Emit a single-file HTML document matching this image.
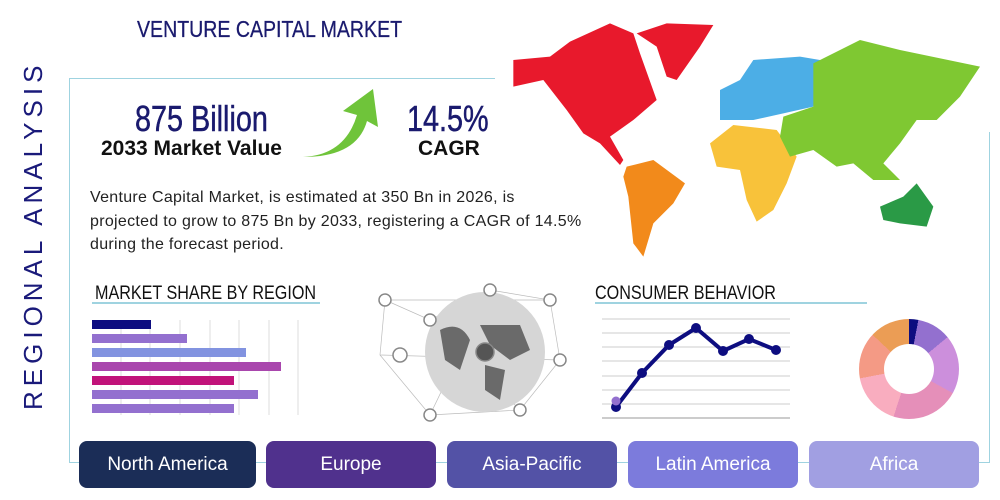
<!DOCTYPE html>
<html><head><meta charset="utf-8"><style>
body{margin:0;width:1000px;height:500px;background:#fff;position:relative;overflow:hidden;font-family:"Liberation Sans",sans-serif}
.a{position:absolute}
.cond{font-family:"Liberation Sans Narrow","Liberation Sans",sans-serif;transform-origin:left top}
.btn{position:absolute;top:441px;height:47px;border-radius:8px;color:#fff;font-size:19px;text-align:center;line-height:47px}
</style></head><body>
<div class="a" style="left:69px;top:78px;width:921px;height:385px;border:1.5px solid #9fd3e0;box-sizing:border-box"></div>
<div class="a" style="left:495px;top:0;width:505px;height:132px;background:#fff"></div>
<div class="a" style="left:18px;top:90px;width:40px;height:320px">
<div class="a" style="left:0;top:320px;transform:rotate(-90deg);transform-origin:left top;font-size:26px;letter-spacing:5px;color:#1a1a7a;white-space:nowrap;width:320px;text-align:center">REGIONAL ANALYSIS</div></div>
<div class="a cond" style="left:137px;top:16px;font-size:23px;color:#1a1a6e;-webkit-text-stroke:.3px #1a1a6e;transform:scaleX(.85)">VENTURE CAPITAL MARKET</div>
<div class="a cond" style="left:135px;top:98px;font-size:36px;color:#1a1a6e;-webkit-text-stroke:.5px #1a1a6e;transform:scaleX(.8)">875 Billion</div>
<div class="a" style="left:101px;top:137px;font-size:21px;font-weight:bold;color:#111">2033 Market Value</div>
<div class="a cond" style="left:407px;top:98px;font-size:36px;color:#1a1a6e;-webkit-text-stroke:.5px #1a1a6e;transform:scaleX(.8)">14.5%</div>
<div class="a" style="left:418px;top:137px;font-size:21px;font-weight:bold;color:#111">CAGR</div>
<svg class="a" style="left:295px;top:85px" width="90" height="80"><path d="M8 72 Q50 70 62 30 L48 26 L78 4 L83 42 L72 36 Q62 72 8 72Z" fill="#6fc43a"/></svg>
<div class="a" style="left:90px;top:186px;font-size:16px;letter-spacing:.3px;line-height:23.5px;color:#222;white-space:nowrap">Venture Capital Market, is estimated at 350 Bn in 2026, is<br>projected to grow to 875 Bn by 2033, registering a CAGR of 14.5%<br>during the forecast period.</div>
<!-- map -->
<svg class="a" style="left:500px;top:10px" width="490" height="260" viewBox="0 0 1470 780">
<path d="M40 150 L150 140 L210 95 L330 40 L400 70 L420 130 L470 270 L400 330 L330 380 L370 450 L360 465 L300 400 L250 370 L200 300 L130 210 L40 230Z" fill="#e8192c"/>
<path d="M410 70 L500 40 L640 45 L600 110 L530 210 L500 200 L470 110Z" fill="#e8192c"/>
<path d="M380 470 L460 450 L555 520 L520 580 L460 640 L430 740 L400 700 L385 560 L370 500Z" fill="#f28a1b"/>
<path d="M660 330 L660 240 L720 210 L760 150 L900 140 L960 150 L940 290 L850 310 L760 330Z" fill="#4caee6"/>
<path d="M630 400 L700 345 L830 360 L890 440 L860 520 L820 600 L770 635 L740 570 L720 480 L650 470Z" fill="#f8c23a"/>
<path d="M940 160 L1080 90 L1200 120 L1440 170 L1380 260 L1310 330 L1250 330 L1200 400 L1150 460 L1200 510 L1120 510 L1060 460 L1010 470 L940 420 L870 440 L840 380 L850 320 L940 290Z" fill="#7fc832"/>
<path d="M1140 590 L1210 560 L1250 520 L1300 590 L1280 650 L1200 640 L1150 630Z" fill="#2a9a46"/>
</svg>
<!-- bar chart -->
<div class="a cond" style="left:95px;top:283px;font-size:19px;color:#111;transform:scaleX(.85)">MARKET SHARE BY REGION</div>
<div class="a" style="left:92px;top:302px;width:228px;height:1.5px;background:#9fd3e0"></div>
<svg class="a" style="left:90px;top:315px" width="220" height="100">
<g stroke="#ddd" stroke-width="1"><line x1="31" y1="5" x2="31" y2="100"/><line x1="60" y1="5" x2="60" y2="100"/><line x1="90" y1="5" x2="90" y2="100"/><line x1="120" y1="5" x2="120" y2="100"/><line x1="149" y1="5" x2="149" y2="100"/><line x1="179" y1="5" x2="179" y2="100"/><line x1="208" y1="5" x2="208" y2="100"/></g>
<rect x="2" y="5" width="59" height="9" fill="#0d0d80"/>
<rect x="2" y="19" width="95" height="9" fill="#9370cf"/>
<rect x="2" y="33" width="154" height="9" fill="#8293e0"/>
<rect x="2" y="47" width="189" height="9" fill="#a946ad"/>
<rect x="2" y="61" width="142" height="9" fill="#c1137a"/>
<rect x="2" y="75" width="166" height="9" fill="#9370cf"/>
<rect x="2" y="89" width="142" height="9" fill="#9370cf"/>
</svg>
<!-- globe -->
<svg class="a" style="left:370px;top:280px" width="200" height="150">
<g stroke="#bbb" stroke-width=".7" fill="none"><path d="M15 20 L60 40 L120 10 L180 20 L190 80 L150 130 L60 135 L10 75 Z M60 40 L150 130 M120 10 L60 135 M10 75 L190 80 M15 20 L180 20"/></g>
<circle cx="115" cy="72" r="60" fill="#d6d6d6"/>
<path d="M70 50 Q90 40 100 60 L90 90 L75 80Z M110 45 L150 45 L160 70 L140 80 L120 65Z M115 85 L135 90 L130 120 L115 110Z" fill="#6a6a6a"/>
<g fill="#fff" stroke="#888" stroke-width="1.5"><circle cx="15" cy="20" r="6"/><circle cx="60" cy="40" r="6"/><circle cx="120" cy="10" r="6"/><circle cx="180" cy="20" r="6"/><circle cx="190" cy="80" r="6"/><circle cx="150" cy="130" r="6"/><circle cx="60" cy="135" r="6"/><circle cx="30" cy="75" r="7"/><circle cx="115" cy="72" r="9" fill="#555"/></g>
</svg>
<!-- line chart -->
<div class="a cond" style="left:595px;top:283px;font-size:19px;color:#111;transform:scaleX(.85)">CONSUMER BEHAVIOR</div>
<div class="a" style="left:595px;top:302px;width:272px;height:1.5px;background:#9fd3e0"></div>
<svg class="a" style="left:590px;top:300px" width="220" height="120">
<g stroke="#ccc" stroke-width="1"><line x1="12" y1="19" x2="200" y2="19"/><line x1="12" y1="33" x2="200" y2="33"/><line x1="12" y1="47" x2="200" y2="47"/><line x1="12" y1="61" x2="200" y2="61"/><line x1="12" y1="76" x2="200" y2="76"/><line x1="12" y1="90" x2="200" y2="90"/><line x1="12" y1="104" x2="200" y2="104"/><line x1="12" y1="118" x2="200" y2="118" stroke="#999"/></g>
<polyline points="26,107 52,73 79,45 106,28 133,51 159,39 186,50" fill="none" stroke="#0d0d80" stroke-width="4"/>
<g fill="#0d0d80"><circle cx="26" cy="107" r="5"/><circle cx="52" cy="73" r="5"/><circle cx="79" cy="45" r="5"/><circle cx="106" cy="28" r="5"/><circle cx="133" cy="51" r="5"/><circle cx="159" cy="39" r="5"/><circle cx="186" cy="50" r="5"/></g>
<circle cx="26" cy="101" r="4.5" fill="#9370cf"/>
</svg>
<!-- donut -->
<div class="a" style="left:859px;top:319px;width:100px;height:100px;border-radius:50%;background:conic-gradient(#0d0d80 0 3%,#9370cf 3% 14%,#cc8fdc 14% 33%,#e58fb9 33% 55%,#f9adbf 55% 72%,#f49a85 72% 87%,#eb9d55 87% 100%)"></div>
<div class="a" style="left:884px;top:344px;width:50px;height:50px;border-radius:50%;background:#fff"></div>
<!-- buttons -->
<div class="btn" style="left:79px;width:177px;background:#1b2d57">North America</div>
<div class="btn" style="left:266px;width:170px;background:#50318d">Europe</div>
<div class="btn" style="left:447px;width:170px;background:#5352a6">Asia-Pacific</div>
<div class="btn" style="left:628px;width:170px;background:#7c7bdc">Latin America</div>
<div class="btn" style="left:809px;width:170px;background:#a19fe2">Africa</div>
</body></html>
